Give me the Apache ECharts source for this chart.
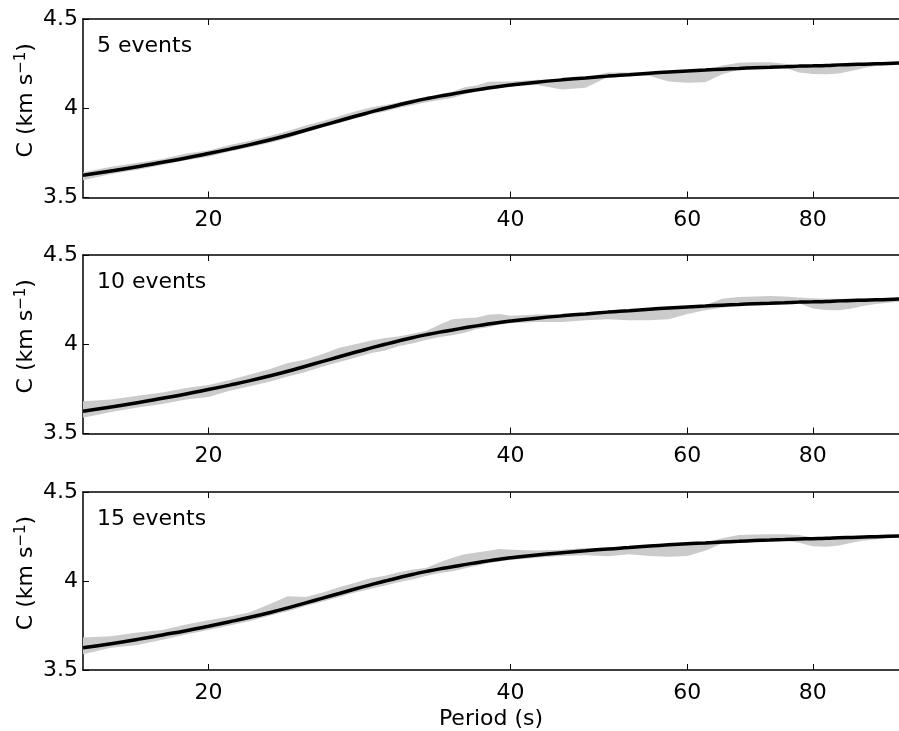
<!DOCTYPE html>
<html>
<head>
<meta charset="utf-8">
<script src="https://cdn.jsdelivr.net/npm/echarts@6/dist/echarts.min.js"></script>
<style>
html,body{margin:0;padding:0;background:#fff;}
#chart{width:899px;height:731px;}
</style>
</head>
<body>
<div id="chart"></div>
<script>
// period (s)
var periods = [15,16,17,18,19,20,21,22,23,24,25,26,27,28,29,30,31,32,33,34,35,36,37,38,39,40,
  42.5,45,47.5,50,52.5,55,57.5,60,62.5,65,67.5,70,72.5,75,77.5,80,82.5,85,87.5,90,92.5,95,97.5];

// black model curve (same in each panel)
var model = [3.625,3.648,3.672,3.697,3.721,3.746,3.771,3.796,3.822,3.849,3.877,3.904,3.930,3.955,3.978,4.000,4.020,4.038,4.054,4.068,4.080,4.092,4.103,4.113,4.122,4.130,
  4.146,4.159,4.170,4.180,4.188,4.196,4.203,4.209,4.214,4.219,4.223,4.227,4.230,4.233,4.236,4.238,4.240,4.243,4.245,4.247,4.249,4.251,4.253];

// grey band, 5 events
var lo5 = [3.597,3.632,3.655,3.682,3.708,3.728,3.758,3.782,3.805,3.832,3.865,3.892,3.918,3.942,3.966,3.982,4.003,4.018,4.033,4.046,4.058,4.078,4.093,4.103,4.113,4.123,
  4.130,4.105,4.115,4.175,4.183,4.180,4.150,4.143,4.145,4.190,4.215,4.222,4.225,4.228,4.200,4.192,4.190,4.195,4.210,4.225,4.238,4.245,4.250];
var hi5 = [3.642,3.672,3.694,3.716,3.746,3.764,3.794,3.818,3.844,3.872,3.904,3.928,3.955,3.982,4.004,4.018,4.033,4.050,4.064,4.078,4.093,4.117,4.127,4.148,4.150,4.150,
  4.160,4.160,4.172,4.200,4.200,4.202,4.205,4.200,4.210,4.240,4.255,4.258,4.258,4.250,4.240,4.240,4.242,4.245,4.246,4.248,4.250,4.254,4.258];

// grey band, 10 events
var lo10 = [3.588,3.620,3.645,3.665,3.690,3.705,3.740,3.765,3.790,3.820,3.845,3.875,3.900,3.925,3.950,3.965,3.990,4.005,4.025,4.040,4.050,4.065,4.085,4.095,4.110,4.118,
  4.125,4.125,4.135,4.140,4.135,4.135,4.140,4.170,4.190,4.205,4.215,4.222,4.228,4.230,4.230,4.200,4.192,4.190,4.200,4.215,4.225,4.232,4.238];
var hi10 = [3.681,3.690,3.712,3.730,3.755,3.772,3.800,3.830,3.860,3.895,3.915,3.945,3.980,4.000,4.020,4.035,4.045,4.060,4.075,4.110,4.140,4.145,4.150,4.165,4.170,4.160,
  4.166,4.170,4.175,4.185,4.190,4.196,4.203,4.209,4.220,4.255,4.265,4.268,4.270,4.268,4.262,4.258,4.255,4.255,4.255,4.256,4.258,4.258,4.260];

// grey band, 15 events
var lo15 = [3.588,3.625,3.640,3.670,3.700,3.725,3.750,3.775,3.805,3.830,3.860,3.885,3.910,3.935,3.955,3.975,3.995,4.010,4.030,4.045,4.055,4.070,4.085,4.100,4.110,4.118,
  4.130,4.140,4.145,4.139,4.150,4.140,4.136,4.140,4.170,4.210,4.218,4.222,4.226,4.228,4.215,4.195,4.192,4.200,4.215,4.228,4.235,4.240,4.245];
var hi15 = [3.682,3.690,3.710,3.725,3.755,3.780,3.800,3.825,3.870,3.915,3.910,3.935,3.965,3.990,4.015,4.030,4.050,4.065,4.075,4.105,4.130,4.150,4.160,4.170,4.180,4.175,
  4.172,4.175,4.185,4.186,4.192,4.198,4.204,4.209,4.215,4.240,4.258,4.261,4.262,4.262,4.258,4.245,4.245,4.248,4.250,4.252,4.254,4.256,4.258];

var panelNames = ['5 events','10 events','15 events'];
var bandsLo = [lo5, lo10, lo15];
var bandsHi = [hi5, hi10, hi15];
var xTicks = [20, 40, 60, 80];

var FONT = '"DejaVu Sans", "Liberation Sans", Arial, sans-serif';
var FS = 22;
var tops = [19, 255, 492];
var H = 178.5;

function bandRenderer(lo, hi){
  return function(params, api){
    if(params.dataIndex !== 0) return null;
    var pts = [];
    for(var k=0;k<periods.length;k++) pts.push(api.coord([periods[k], hi[k]]));
    for(var k=periods.length-1;k>=0;k--) pts.push(api.coord([periods[k], lo[k]]));
    return {type:'polygon', shape:{points:pts}, style:{fill:'#cbcbcb'}};
  };
}

function xAxisDef(gi, pos, labels, named){
  return {
    gridIndex: gi, type: 'log', position: pos, min: 15, max: 97.5,
    axisLine: {show: true, onZero: false, lineStyle: {color: '#000', width: 1.5}},
    axisTick: {show: true, inside: true, length: 6, customValues: xTicks, lineStyle: {color: '#000', width: 1}},
    axisLabel: {show: labels, customValues: xTicks, fontSize: FS, color: '#000', margin: 12, fontFamily: FONT},
    minorTick: {show: false}, splitLine: {show: false},
    name: named ? 'Period (s)' : '', nameLocation: 'middle', nameGap: 38, nameMoveOverlap: false,
    nameTextStyle: {fontSize: FS, color: '#000', fontFamily: FONT}
  };
}

var grids = [], xAxes = [], yAxes = [], series = [], titles = [];
tops.forEach(function(t, i){
  grids.push({left: 83, right: 0, top: t, height: H});
  xAxes.push(xAxisDef(i, 'bottom', true, i === 2));
  xAxes.push(xAxisDef(i, 'top', false, false));
  yAxes.push({
    gridIndex: i, type: 'value', min: 3.5, max: 4.5, interval: 0.5,
    axisLine: {show: true, lineStyle: {color: '#000', width: 1.5}},
    axisTick: {show: true, inside: true, length: 6, lineStyle: {color: '#000'}},
    axisLabel: {fontSize: FS, color: '#000', margin: 5, fontFamily: FONT},
    splitLine: {show: false},
    name: '{n|C (km s}{s|\u22121}{n|)}', nameLocation: 'middle', nameRotate: 90, nameGap: 45,
    nameMoveOverlap: false,
    nameTextStyle: {fontSize: FS, color: '#000', fontFamily: FONT, padding: [0, 0, 0, 16],
      rich: {
        n: {fontSize: FS, color: '#000', fontFamily: FONT, lineHeight: 24},
        s: {fontSize: 15, color: '#000', fontFamily: FONT, lineHeight: 15, verticalAlign: 'top'}
      }}
  });
  series.push({
    type: 'custom', xAxisIndex: 2*i, yAxisIndex: i, silent: true, clip: true, z: 1,
    renderItem: bandRenderer(bandsLo[i], bandsHi[i]),
    encode: {x: 0, y: [1, 2]},
    data: periods.map(function(p, k){ return [p, bandsLo[i][k], bandsHi[i][k]]; })
  });
  series.push({
    type: 'line', xAxisIndex: 2*i, yAxisIndex: i, z: 3,
    showSymbol: false, smooth: true,
    lineStyle: {color: '#000', width: 3.5},
    data: periods.map(function(p, k){ return [p, model[k]]; })
  });
  titles.push({text: panelNames[i], left: 97, top: t + 16, padding: 0,
    textStyle: {fontSize: FS, fontWeight: 'normal', color: '#000', fontFamily: FONT}});
});

var chart = echarts.init(document.getElementById('chart'), null, {renderer: 'canvas'});
chart.setOption({
  animation: false,
  backgroundColor: '#fff',
  title: titles,
  grid: grids,
  xAxis: xAxes,
  yAxis: yAxes,
  series: series
});
</script>
</body>
</html>
